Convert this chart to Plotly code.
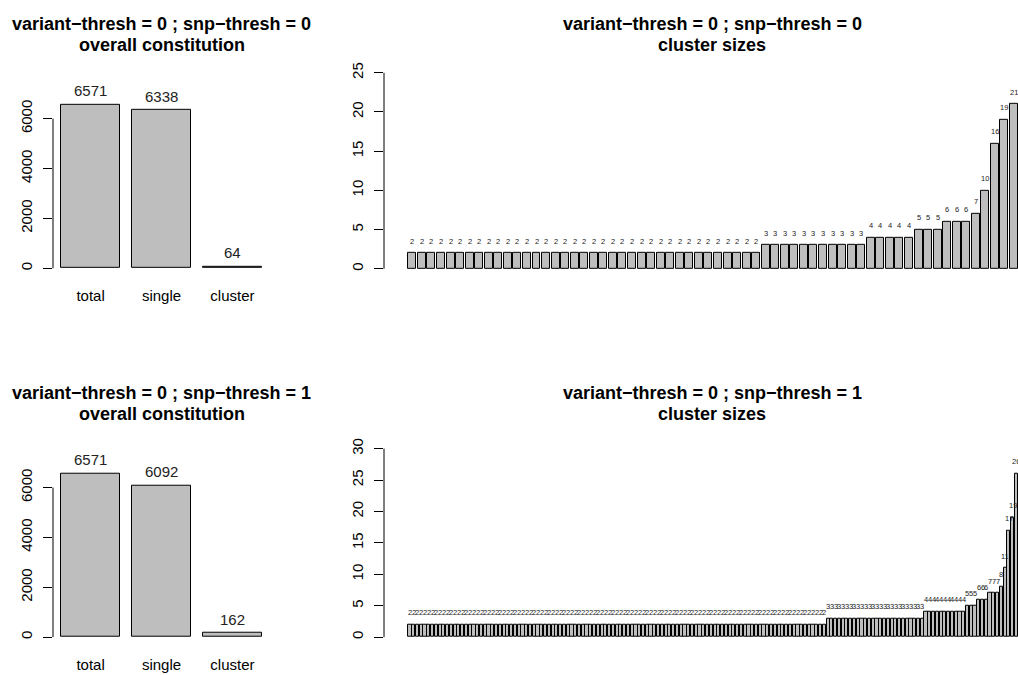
import plotly.graph_objects as go

W, H = 1018, 675

# ---------------- data ----------------
categories = ["total", "single", "cluster"]
overall_snp0 = [6571, 6338, 64]
overall_snp1 = [6571, 6092, 162]

cluster_sizes_snp0 = [
    2, 2, 2, 2, 2, 2, 2, 2, 2, 2,
    2, 2, 2, 2, 2, 2, 2, 2, 2, 2,
    2, 2, 2, 2, 2, 2, 2, 2, 2, 2,
    2, 2, 2, 2, 2, 2, 2,
    3, 3, 3, 3, 3, 3, 3, 3, 3, 3, 3,
    4, 4, 4, 4, 4,
    5, 5, 5,
    6, 6, 6,
    7, 10, 16, 19, 21,
]

cluster_sizes_snp1 = [
    2, 2, 2, 2, 2, 2, 2, 2, 2, 2,
    2, 2, 2, 2, 2, 2, 2, 2, 2, 2,
    2, 2, 2, 2, 2, 2, 2, 2, 2, 2,
    2, 2, 2, 2, 2, 2, 2, 2, 2, 2,
    2, 2, 2, 2, 2, 2, 2, 2, 2, 2,
    2, 2, 2, 2, 2, 2, 2, 2, 2, 2,
    2, 2, 2, 2, 2, 2, 2, 2, 2, 2,
    2, 2, 2, 2, 2, 2, 2, 2, 2, 2,
    2, 2, 2, 2, 2, 2, 2, 2, 2, 2,
    2, 2, 2, 2, 2, 2, 2, 2, 2, 2,
    2, 2, 2, 2, 2, 2, 2, 2, 2, 2,
    2,
    3, 3, 3, 3, 3, 3, 3, 3, 3, 3,
    3, 3, 3, 3, 3, 3, 3, 3, 3, 3,
    3, 3, 3, 3, 3, 3,
    4, 4, 4, 4, 4, 4, 4, 4, 4, 4, 4,
    5, 5, 5,
    6, 6, 6,
    7, 7, 7,
    8, 11, 17, 19, 26,
]

titles_line1 = ["variant\u2212thresh = 0 ; snp\u2212thresh = 0",
                "variant\u2212thresh = 0 ; snp\u2212thresh = 1"]
title_left_line2 = "overall constitution"
title_right_line2 = "cluster sizes"

left_yticks = [0, 2000, 4000, 6000]
right_yticks_snp0 = [0, 5, 10, 15, 20, 25]
right_yticks_snp1 = [0, 5, 10, 15, 20, 25, 30]

# ---------------- styling ----------------
FONT = "Liberation Sans, Arial, Helvetica, sans-serif"
BAR_FILL = "#BEBEBE"

def px(x):
    return x / W

def py(y):
    return 1 - y / H

fig = go.Figure()

ROW_OFFSET = 370

panels = [
    dict(vals=overall_snp0, kind="left", row=0, yticks=left_yticks, zero_px=267, ppu=0.025,
         xdom=(53, 270), lab_font=15, lab_shift=14),
    dict(vals=cluster_sizes_snp0, kind="right", row=0, yticks=right_yticks_snp0, zero_px=267.5,
         ppu=(267.5 - 71) / 25, xdom=(384, 1018), lab_font=7.5, lab_shift=12),
    dict(vals=overall_snp1, kind="left", row=1, yticks=left_yticks, zero_px=267, ppu=0.025,
         xdom=(53, 270), lab_font=15, lab_shift=14),
    dict(vals=cluster_sizes_snp1, kind="right", row=1, yticks=right_yticks_snp1, zero_px=267,
         ppu=(267 - 78) / 30, xdom=(384, 1018), lab_font=7.5, lab_shift=12),
]

annotations = []
shapes = []
layout_axes = {}

for k, p in enumerate(panels):
    idx = k + 1
    xa = "x" if idx == 1 else f"x{idx}"
    ya = "y" if idx == 1 else f"y{idx}"
    xkey = "xaxis" if idx == 1 else f"xaxis{idx}"
    ykey = "yaxis" if idx == 1 else f"yaxis{idx}"
    off = ROW_OFFSET * p["row"]
    vals = p["vals"]
    n = len(vals)
    # R barplot layout: width 1, space 0.2
    pos = [0.2 + 1.2 * i + 0.5 for i in range(n)]
    wl, wr = 0.2, 0.2 + 1.2 * n - 0.2
    span = wr - wl
    if p["kind"] == "left":
        xr = [wl - 0.04 * span, wr + 0.04 * span]
    else:
        xr = [wl - 0.04 * span, wr]
    ytop_px, ybot_px = 62, 276
    zero = p["zero_px"]
    yr = [-(ybot_px - zero) / p["ppu"], (zero - ytop_px) / p["ppu"]]

    fig.add_trace(go.Bar(
        x=pos, y=vals, width=1,
        marker=dict(color=BAR_FILL, line=dict(color="black", width=1)),
        xaxis=xa, yaxis=ya, showlegend=False, hoverinfo="skip",
    ))

    xax = dict(domain=[px(p["xdom"][0]), px(p["xdom"][1])], range=xr, anchor=ya,
               showgrid=False, zeroline=False, showline=False, fixedrange=True)
    if p["kind"] == "left":
        xax.update(tickmode="array", tickvals=pos, ticktext=categories, ticks="",
                   tickfont=dict(family=FONT, size=15, color="black"),
                   ticklabelstandoff=8)
    else:
        xax.update(showticklabels=False, ticks="")
    yax = dict(domain=[py(ybot_px + off), py(ytop_px + off)], range=yr, anchor=xa,
               showgrid=False, zeroline=False, showline=False,
               tickmode="array", tickvals=p["yticks"],
               ticktext=[str(t) for t in p["yticks"]],
               ticks="outside", ticklen=9, tickcolor="black", tickwidth=1,
               tickangle=-90, tickfont=dict(family=FONT, size=15, color="black"),
               ticklabelstandoff=5, fixedrange=True)
    layout_axes[xkey] = xax
    layout_axes[ykey] = yax

    shapes.append(dict(type="line", xref=f"{xa} domain", yref=ya, x0=0, x1=0,
                       y0=p["yticks"][0], y1=p["yticks"][-1],
                       line=dict(color="black", width=1)))

    for xp, v in zip(pos, vals):
        annotations.append(dict(x=xp, y=v, xref=xa, yref=ya, text=str(v), showarrow=False,
                                yanchor="middle", xanchor="center", yshift=p["lab_shift"],
                                font=dict(family=FONT, size=p["lab_font"], color="#222222")))

    # titles
    cx = (p["xdom"][0] + p["xdom"][1]) / 2 if p["kind"] == "left" else 712
    annotations.append(dict(x=px(cx), y=py(22 + off), xref="paper", yref="paper",
                            text="<b>" + titles_line1[p["row"]] + "</b>", showarrow=False,
                            xanchor="center", yanchor="middle",
                            font=dict(family=FONT, size=18, color="black")))
    annotations.append(dict(x=px(cx), y=py(43 + off), xref="paper", yref="paper",
                            text="<b>" + (title_left_line2 if p["kind"] == "left" else title_right_line2) + "</b>",
                            showarrow=False, xanchor="center", yanchor="middle",
                            font=dict(family=FONT, size=18, color="black")))

fig.update_layout(
    width=W, height=H,
    margin=dict(l=0, r=0, t=0, b=0),
    paper_bgcolor="white", plot_bgcolor="white",
    annotations=annotations, shapes=shapes,
    bargap=0, showlegend=False,
    **layout_axes,
)

fig.write_html("out.html", config={"displayModeBar": False})
